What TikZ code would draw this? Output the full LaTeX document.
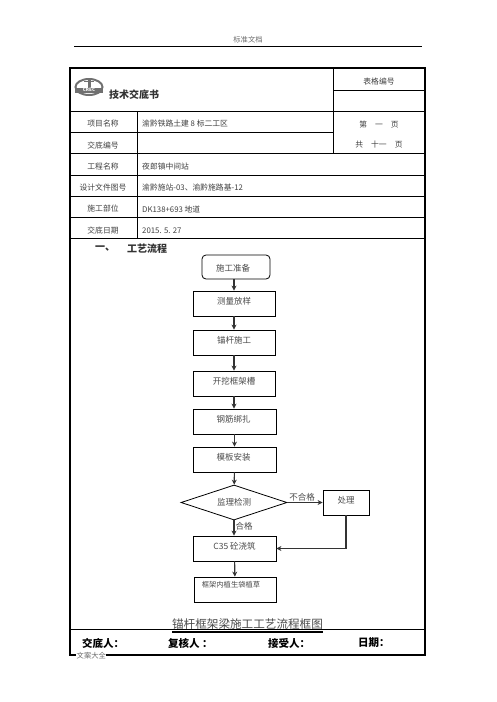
\documentclass[tikz,border=0pt]{standalone}
\usepackage{fontspec}
\setmainfont{Noto Sans CJK SC}
\usepackage{tikz}
\usepackage{xcolor}
\usetikzlibrary{arrows.meta,shapes.geometric}
\definecolor{flowgrey}{HTML}{4A4A4A}
\definecolor{softgrey}{HTML}{6B6B6B}
\definecolor{logogrey}{HTML}{707070}

\begin{document}
\begin{tikzpicture}[
  x=1pt, y=-1pt,
  outer/.style={draw, line width=1.6pt},
  rule/.style={draw, line width=0.8pt},
  cellkey/.style={font=\fontsize{7.8}{9}\selectfont, text=black!75, inner sep=0pt},
  cellval/.style={cellkey, anchor=west},
  headtext/.style={font=\bfseries\fontsize{10}{12}\selectfont, text=black!80, inner sep=0pt, anchor=west},
  signtext/.style={font=\bfseries\fontsize{10.5}{12}\selectfont, inner sep=0pt, anchor=west},
  flowbox/.style={draw, line width=0.8pt, minimum width=82pt, minimum height=25pt, inner sep=0pt},
  startbox/.style={flowbox, rounded corners=4pt, minimum width=68pt, minimum height=24pt},
  checkbox/.style={draw, line width=0.8pt, shape=diamond, minimum width=106pt, minimum height=35pt,
                   inner sep=0pt, aspect=3},
  flowtext/.style={font=\fontsize{8.5}{10}\selectfont, text=flowgrey, inner sep=0pt},
  flow/.style={-{Stealth[length=5pt,width=5pt]}, line width=1.1pt, black!80},
]
\useasboundingbox (0,0) rectangle (496,702);

% --- page header
\node[font=\fontsize{7.3}{9}\selectfont, text=softgrey, inner sep=0pt] (pagehead) at (248,40) {标准文档};
\coordinate (headL) at (74,46);
\coordinate (headR) at (422,46);
\draw[line width=0.7pt] (headL) -- (headR);

% --- table frame and rules
\draw[outer] (70,68) rectangle (425,655);
\draw[rule] (70,111) -- (425,111);
\draw[rule] (70,132) -- (333,132);
\draw[rule] (70,153) -- (425,153);
\draw[rule] (70,175) -- (425,175);
\draw[rule] (70,196) -- (425,196);
\draw[rule] (70,217) -- (425,217);
\draw[rule] (70,238) -- (425,238);
\draw[rule] (70,629) -- (425,629);
\draw[rule] (333,90) -- (425,90);
\draw[rule] (333,68) -- (333,153);
\draw[rule] (137,111) -- (137,238);

% --- logo
\draw[logogrey, line width=2pt] (89,87) ellipse [x radius=13.5, y radius=8];
\fill[logogrey] (87.5,80) rectangle (90.5,90);
\fill[logogrey] (84,80.5) rectangle (94,82);
\fill[logogrey] (75,88) rectangle (103,92.5);
\node[font=\bfseries\fontsize{4.5}{5}\selectfont, text=white, inner sep=0pt] (logotext) at (89,90.3) {CREC};

% --- table texts
\node[headtext] (title) at (109,95) {技术交底书};
\node[cellkey] (formno) at (379,82) {表格编号};
\node[cellkey] (pageno) at (379,125) {第\hspace{8pt}一\hspace{8pt}页};
\node[cellkey] (pagesum) at (379,145) {共\hspace{8pt}十一\hspace{8pt}页};

\node[cellkey] (k1) at (103,124) {项目名称};
\node[cellkey] (k2) at (103,146) {交底编号};
\node[cellkey] (k3) at (103,167) {工程名称};
\node[cellkey] (k4) at (103,188) {设计文件图号};
\node[cellkey] (k5) at (103,209) {施工部位};
\node[cellkey] (k6) at (103,231) {交底日期};

\node[cellval] (v1) at (142,124) {渝黔铁路土建 8 标二工区};
\node[cellval] (v3) at (142,167) {夜郎镇中间站};
\node[cellval] (v4) at (142,188) {渝黔施站-03、渝黔施路基-12};
\node[cellval] (v5) at (142,209) {DK138+693 地道};
\node[cellval] (v6) at (142,231) {2015. 5. 27};

\node[headtext] (sec1) at (95,249) {一、};
\node[headtext] (sec1b) at (127,249) {工艺流程};

% --- flow boxes
\node[startbox, label={[flowtext, xshift=-3pt, yshift=-1pt]center:施工准备}] (prep) at (236,267) {};
\node[flowbox, label={[flowtext, yshift=2pt]center:测量放样}] (survey) at (234,303.5) {};
\node[flowbox, label={[flowtext, yshift=2pt]center:锚杆施工}] (anchor) at (234,342.5) {};
\node[flowbox, label={[flowtext, yshift=2pt]center:开挖框架槽}] (trench) at (234,383.5) {};
\node[flowbox, minimum width=83pt, label={[flowtext, xshift=-1pt, yshift=2pt]center:钢筋绑扎}] (rebar) at (234.5,421.5) {};
\node[flowbox, minimum width=83pt, label={[flowtext, xshift=-1pt, yshift=2pt]center:模板安装}] (form) at (234.5,459.5) {};
\node[checkbox, flowtext, text=flowgrey] (check) at (234,502.5) {监理检测};
\node[flowbox, minimum width=46pt, label={[flowtext, yshift=2pt]center:处理}] (fix) at (346,502.5) {};
\node[flowbox, minimum width=83pt, label={[flowtext, yshift=2pt]center:C35 砼浇筑}] (pour) at (234.5,548.5) {};
\node[flowbox, label={[flowtext, font=\fontsize{7.3}{9}\selectfont, xshift=-4pt, yshift=4.5pt]center:框架内植生袋植草}] (grass) at (235,589.5) {};

% --- connectors
\draw[flow] (prep.south -| survey) -- (survey);
\draw[flow] (survey) -- (anchor);
\draw[flow] (anchor) -- (trench);
\draw[flow] (trench) -- (rebar.north -| trench);
\draw[flow] (rebar) -- (form);
\draw[flow] (form) -- (check);
\draw[flow] (check) -- (pour.north -| check);
\draw[flow] (pour) -- (grass);
\draw[flow] (check.east) -- (fix.west);
\draw[flow] (fix.south) |- (pour.east);

\node[flowtext] (fail) at (302,497) {不合格};
\node[flowtext] (pass) at (244,526) {合格};

% --- caption and sign row
\node[font=\fontsize{11.6}{13}\selectfont, text=flowgrey, inner sep=0pt] (caption) at (247.5,624) {锚杆框架梁施工工艺流程框图};
\coordinate (capL) at (172,632);
\coordinate (capR) at (323,632);
\draw[line width=1.6pt] (capL) -- (capR);

\node[signtext] (s1) at (82,643) {交底人：};
\node[signtext] (s2) at (168,643) {复核人 ：};
\node[signtext] (s3) at (268,643) {接受人：};
\node[signtext] (s4) at (358,643) {日期：};

\node[font=\fontsize{7.3}{9}\selectfont, text=softgrey, fill=white, inner sep=0.5pt, anchor=west] (pagefoot) at (76,655.5) {文案大全};
\end{tikzpicture}
\end{document}
